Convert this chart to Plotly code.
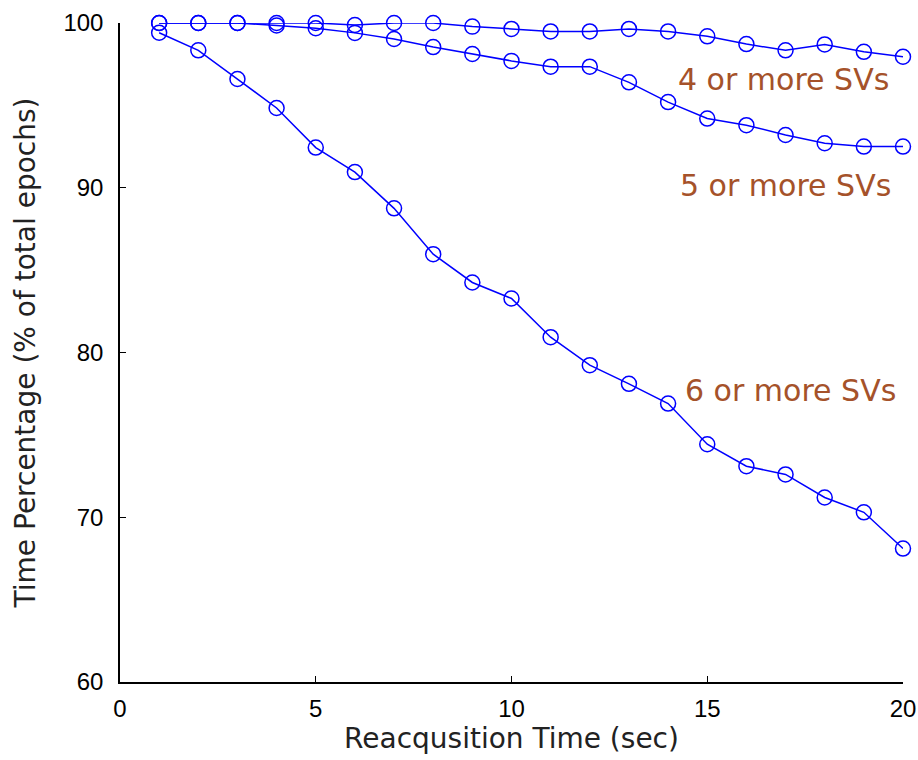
import plotly.graph_objects as go

reacq_time = list(range(1, 21))
svs4 = [100, 100, 100, 100, 100, 99.88, 100, 100, 99.78, 99.64,
        99.49, 99.49, 99.64, 99.49, 99.19, 98.72, 98.34, 98.7, 98.25, 97.95]
svs5 = [100, 100, 100, 99.85, 99.68, 99.4, 99.03, 98.54, 98.12, 97.7,
        97.35, 97.35, 96.4, 95.2, 94.2, 93.8, 93.2, 92.7, 92.5, 92.5]
svs6 = [99.41, 98.34, 96.6, 94.84, 92.44, 90.95, 88.75, 85.97, 84.25, 83.28,
        80.93, 79.23, 78.1, 76.9, 74.43, 73.1, 72.6, 71.2, 70.3, 68.1]

labels = ["4 or more SVs", "5 or more SVs", "6 or more SVs"]
label_x = [16.96, 17.0, 17.12]
label_y = [96.56, 90.15, 77.69]

x_ticks = [0, 5, 10, 15, 20]
y_ticks = [60, 70, 80, 90, 100]

fig = go.Figure()
for series in (svs4, svs5, svs6):
    fig.add_trace(go.Scatter(
        x=reacq_time, y=series, mode="lines+markers",
        line=dict(color="#0000FF", width=1.5),
        marker=dict(symbol="circle-open", size=15, color="#0000FF",
                    line=dict(width=1.5, color="#0000FF")),
        cliponaxis=False, showlegend=False,
    ))

for t, lx, ly in zip(labels, label_x, label_y):
    fig.add_annotation(x=lx, y=ly, text=t, showarrow=False,
                       xanchor="center", yanchor="middle",
                       font=dict(family="DejaVu Sans", size=30, color="#A5522A"))

fig.update_layout(
    width=918, height=760,
    margin=dict(l=120, r=15, t=23, b=78),
    plot_bgcolor="white", paper_bgcolor="white",
    xaxis=dict(range=[0, 20], tickvals=x_ticks, ticks="inside", ticklen=6,
               tickcolor="black", showline=True, linecolor="black", linewidth=1.5,
               showgrid=False, zeroline=False, mirror=False, automargin=False,
               tickfont=dict(family="Liberation Sans", size=24, color="black"),
               ticklabelstandoff=4,
               title=dict(text="Reacqusition Time (sec)", standoff=8,
                          font=dict(family="DejaVu Sans", size=28, color="#222222"))),
    yaxis=dict(range=[60, 100], tickvals=y_ticks, ticks="inside", ticklen=6,
               tickcolor="black", showline=True, linecolor="black", linewidth=1.5,
               showgrid=False, zeroline=False, mirror=False, automargin=False,
               tickfont=dict(family="Liberation Sans", size=24, color="black"),
               ticklabelstandoff=10,
               title=dict(text="Time Percentage (% of total epochs)", standoff=20,
                          font=dict(family="DejaVu Sans", size=28, color="#222222"))),
)

fig.write_html("out.html")
